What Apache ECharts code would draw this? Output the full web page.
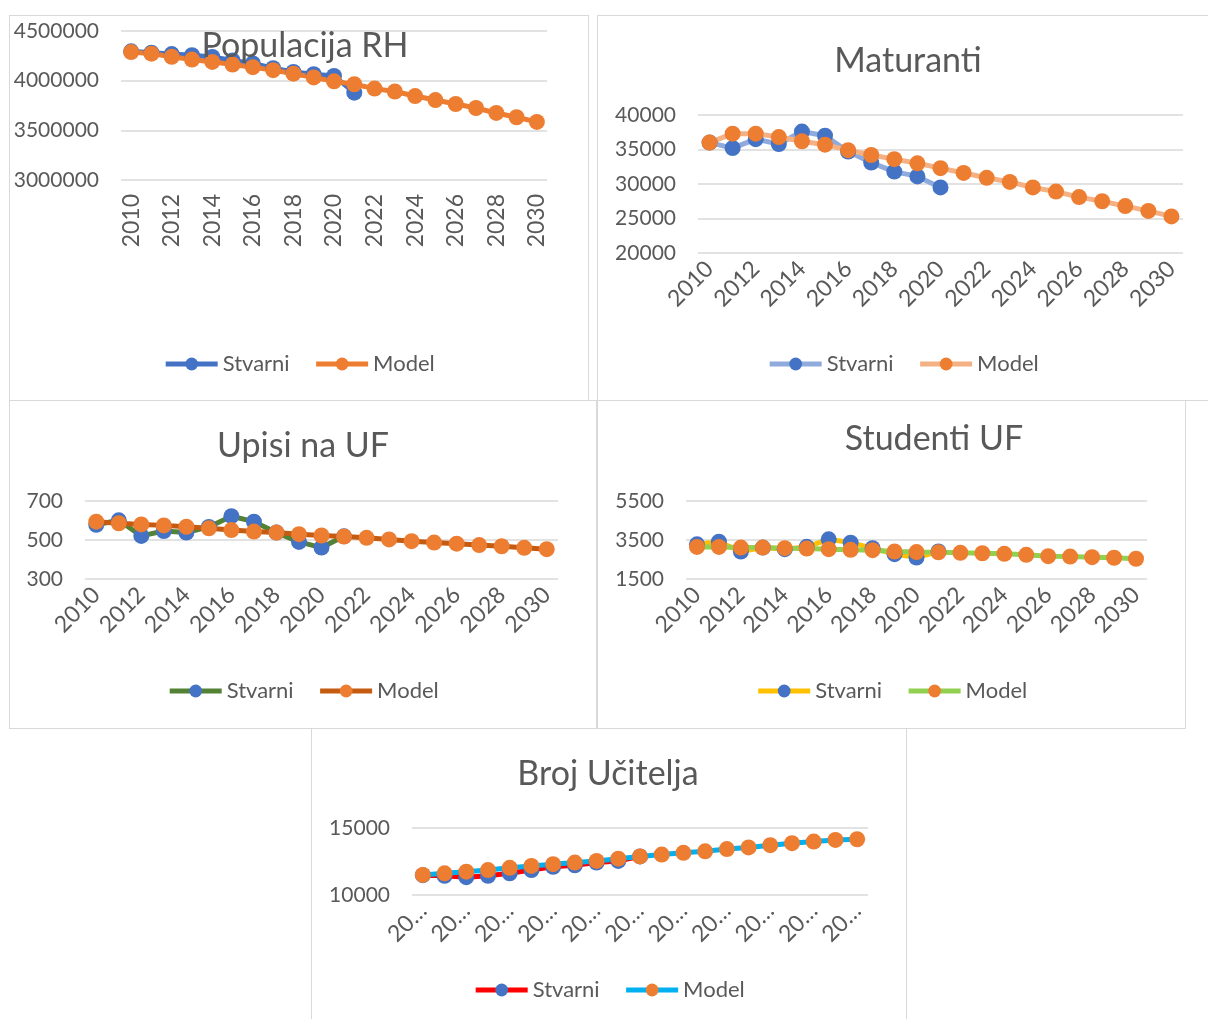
<!DOCTYPE html>
<html>
<head>
<meta charset="utf-8">
<script src="https://cdn.jsdelivr.net/npm/echarts@6/dist/echarts.min.js"></script>
<style>
  html, body { margin: 0; padding: 0; background: #ffffff; width: 1208px; height: 1019px; overflow: hidden; }
  .panel { position: absolute; box-sizing: border-box; border: 1px solid #d9d9d9; background: #fff; }
</style>
</head>
<body>
<div id="p1" class="panel" style="left:9px;top:15px;width:580px;height:386px;"></div>
<div id="p2" class="panel" style="left:597px;top:15px;width:612px;height:386px;"></div>
<div id="p3" class="panel" style="left:9px;top:400px;width:588px;height:329px;"></div>
<div id="p4" class="panel" style="left:597px;top:400px;width:589px;height:329px;"></div>
<div id="p5" class="panel" style="left:311px;top:728px;width:596px;height:295px;"></div>
<script>
// ---- Data ----
const years = ['2010','2011','2012','2013','2014','2015','2016','2017','2018','2019','2020',
               '2021','2022','2023','2024','2025','2026','2027','2028','2029','2030'];

const populacijaStvarni = [4295000, 4281000, 4268000, 4256000, 4238000, 4204000, 4174000, 4125000, 4088000, 4065000, 4048000, 3879000];
const populacijaModel   = [4288000, 4272000, 4240000, 4212000, 4189000, 4162000, 4136000, 4106000, 4070000, 4033000, 3993000,
                           3964000, 3920000, 3891000, 3845000, 3805000, 3765000, 3725000, 3675000, 3632000, 3585000];

const maturantiStvarni = [36000, 35200, 36500, 35800, 37600, 37000, 34700, 33100, 31800, 31100, 29500];
const maturantiModel   = [36000, 37300, 37300, 36800, 36200, 35700, 34900, 34200, 33600, 33000, 32300,
                          31600, 30900, 30300, 29500, 28900, 28100, 27500, 26800, 26100, 25300];

const upisiStvarni = [578, 601, 521, 546, 538, 567, 622, 594, 538, 490, 461, 519];
const upisiModel   = [594, 586, 580, 575, 568, 560, 551, 543, 538, 530, 523,
                      518, 511, 503, 494, 487, 481, 474, 468, 460, 453];

const studentiStvarni = [3280, 3415, 2910, 3110, 3030, 3150, 3535, 3365, 3080, 2775, 2600, 2910];
const studentiModel   = [3146, 3146, 3112, 3112, 3080, 3060, 3030, 2994, 2980, 2910, 2880,
                         2870, 2840, 2820, 2790, 2740, 2670, 2650, 2620, 2590, 2540];

const uciteljaStvarni = [11480, 11430, 11330, 11430, 11620, 11860, 12100, 12220, 12420, 12540, 12880];
const uciteljaModel   = [11500, 11620, 11740, 11860, 12030, 12170, 12300, 12420, 12540, 12710, 12880,
                         13020, 13150, 13260, 13430, 13550, 13720, 13870, 13990, 14110, 14160];

const seriesNames = ['Stvarni', 'Model'];

// ---- Helpers ----
const FONT = 'Lato';
const TXT = '#595959';
const MARK_BLUE = '#4472c4';
const MARK_ORANGE = '#ed7d31';

function mk(id, o) {
  const chart = echarts.init(document.getElementById(id), null, { renderer: 'canvas' });
  chart.setOption({
    animation: false,
    textStyle: { fontFamily: FONT },
    title: {
      text: o.title, left: o.titleLeft, top: o.titleTop, textAlign: 'center',
      textStyle: { fontFamily: FONT, fontSize: 34, fontWeight: 'normal', color: TXT }
    },
    legend: {
      data: seriesNames, left: o.legendLeft, top: o.legendTop,
      itemWidth: 52, itemHeight: 16, itemGap: 24,
      lineStyle: { width: 5 },
      textStyle: { fontFamily: FONT, fontSize: 22, color: TXT, padding: [0, 0, 0, 0] }
    },
    grid: { left: o.grid[0], top: o.grid[1], right: o.grid[2], bottom: o.grid[3],
            containLabel: false, outerBoundsMode: 'none' },
    xAxis: {
      type: 'category', data: years, boundaryGap: true,
      axisLine: { show: false }, axisTick: { show: false },
      axisLabel: {
        interval: 1, rotate: o.rotate, margin: o.xMargin,
        fontFamily: FONT, fontSize: 23, color: TXT,
        formatter: o.xFormatter || (v => v)
      }
    },
    yAxis: {
      type: 'value', min: o.min, max: o.max, interval: o.interval,
      axisLine: { show: false }, axisTick: { show: false },
      axisLabel: { fontFamily: FONT, fontSize: 21, color: TXT, margin: 22, formatter: v => String(v) },
      splitLine: { lineStyle: { color: '#d9d9d9', width: 1.5 } }
    },
    series: [
      {
        name: 'Stvarni', type: 'line', data: o.actual,
        symbol: 'circle', symbolSize: 16, showSymbol: true, showAllSymbol: true,
        lineStyle: { color: o.actualLine, width: 5 },
        itemStyle: { color: MARK_BLUE, borderWidth: 0 }
      },
      {
        name: 'Model', type: 'line', data: o.model,
        symbol: 'circle', symbolSize: 16, showSymbol: true, showAllSymbol: true,
        lineStyle: { color: o.modelLine, width: 5 },
        itemStyle: { color: MARK_ORANGE, borderWidth: 0 }
      }
    ]
  });
}

mk('p1', {
  title: 'Populacija RH', titleLeft: 290, titleTop: 8,
  legendLeft: 'center', legendTop: 332,
  grid: [111, 15, 41, 220], rotate: 90, xMargin: 14,
  min: 3000000, max: 4500000, interval: 500000,
  actual: populacijaStvarni, model: populacijaModel,
  actualLine: '#4472c4', modelLine: '#ed7d31'
});

mk('p2', {
  title: 'Maturanti', titleLeft: 305, titleTop: 23,
  legendLeft: 'center', legendTop: 332,
  grid: [100, 99, 25, 147], rotate: 45, xMargin: 12,
  min: 20000, max: 40000, interval: 5000,
  actual: maturantiStvarni, model: maturantiModel,
  actualLine: '#8faadc', modelLine: '#f4b183'
});

mk('p3', {
  title: 'Upisi na UF', titleLeft: 288, titleTop: 23,
  legendLeft: 'center', legendTop: 274,
  grid: [75, 100, 38, 149], rotate: 45, xMargin: 12,
  min: 300, max: 700, interval: 200,
  actual: upisiStvarni, model: upisiModel,
  actualLine: '#548235', modelLine: '#c55a11'
});

mk('p4', {
  title: 'Studenti UF', titleLeft: 331, titleTop: 16,
  legendLeft: 'center', legendTop: 274,
  grid: [88, 100, 38, 149], rotate: 45, xMargin: 12,
  min: 1500, max: 5500, interval: 2000,
  actual: studentiStvarni, model: studentiModel,
  actualLine: '#ffc000', modelLine: '#92d050'
});

mk('p5', {
  title: 'Broj Učitelja', titleLeft: 291, titleTop: 23,
  legendLeft: 'center', legendTop: 245,
  grid: [100, 99, 38, 127], rotate: 45, xMargin: 12,
  min: 10000, max: 15000, interval: 5000,
  actual: uciteljaStvarni, model: uciteljaModel,
  actualLine: '#ff0000', modelLine: '#00b0f0',
  xFormatter: v => v.slice(0, 2) + '…'
});
</script>
</body>
</html>
